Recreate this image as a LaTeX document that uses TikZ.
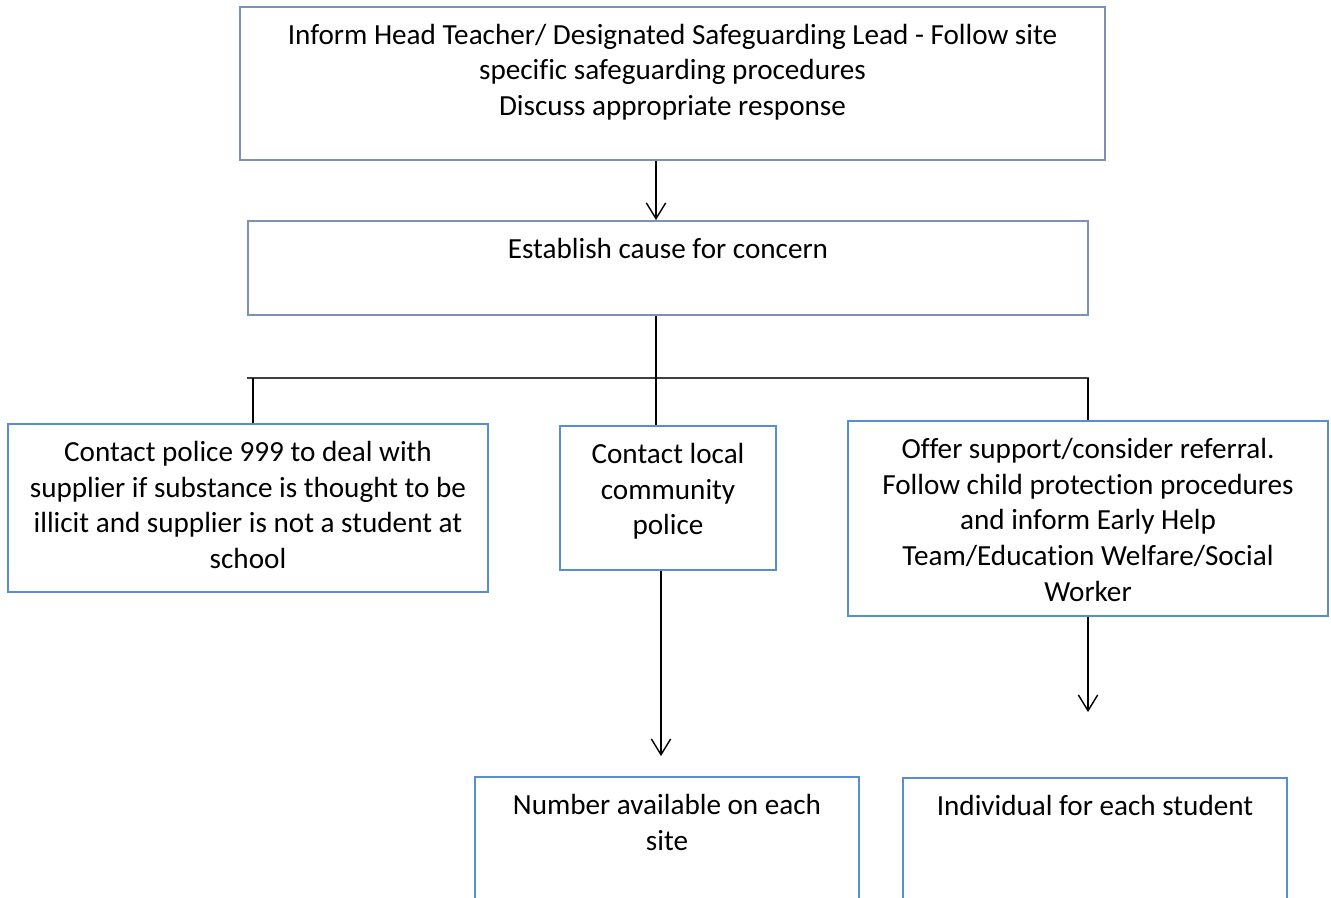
\documentclass[tikz,border=0pt]{standalone}
\usepackage{fontspec}
\setmainfont{Carlito}[Ligatures=NoCommon]
\usepackage{xcolor}
\usetikzlibrary{arrows.meta, positioning}

\definecolor{greyblue}{RGB}{125,146,178}
\definecolor{boxblue}{RGB}{86,142,212}

\begin{document}
\begin{tikzpicture}[x=0.02cm, y=-0.02cm,
		box/.style = {draw=boxblue, line width=1.1pt, inner sep=0pt},
		txt/.style = {inner sep=0pt, align=center, font=\fontsize{16.6}{20.4}\selectfont},
		bus/.style = {draw=black!75, line width=1.1pt}]
		\useasboundingbox (0,0) rectangle (1331,897);
		\clip (0,0) rectangle (1331,897);
		
		% boxes
		\node[box, draw=greyblue, minimum width=17.3cm, minimum height=3.06cm] (inform) at (672.5,83.5) {};
		\node[box, draw=greyblue, minimum width=16.8cm, minimum height=1.88cm] (cause) at (668,268) {};
		\node[box, minimum width=9.6cm, minimum height=3.36cm] (police) at (248,508) {};
		\node[box, minimum width=4.32cm, minimum height=2.88cm] (local) at (668,498) {};
		\node[box, minimum width=9.6cm, minimum height=3.9cm] (support) at (1088,518.5) {};
		\node[box, minimum width=7.68cm, minimum height=3.2cm] (number) at (667,857) {};
		\node[box, minimum width=7.68cm, minimum height=3.2cm] (individual) at (1095,858) {};
		
		% texts
		\node[txt, below=0.35cm of inform.north] (informtext) {Inform Head Teacher/ Designated Safeguarding Lead - Follow site\\ specific safeguarding procedures\\ Discuss appropriate response};
		\node[txt, below=0.35cm of cause.north] (causetext) {Establish cause for concern};
		\node[txt, below=0.35cm of police.north] (policetext) {Contact police 999 to deal with\\ supplier if substance is thought to be\\ illicit and supplier is not a student at\\ school};
		\node[txt, below=0.35cm of local.north] (localtext) {Contact local\\ community\\ police};
		\node[txt, below=0.35cm of support.north] (supporttext) {Offer support/consider referral.\\ Follow child protection procedures\\ and inform Early Help\\ Team/Education Welfare/Social\\ Worker};
		\node[txt, below=0.35cm of number.north] (numbertext) {Number available on each\\ site};
		\node[txt, below=0.35cm of individual.north] (individualtext) {Individual for each student};
		
		% connectors
		\coordinate (split) at (656,378);
		\draw[bus] (cause.west |- split) -- (cause.east |- split);
		\draw[line width=0.8pt] (cause.south -| split) -- (local.north -| split);
		\draw[line width=0.8pt] ([xshift=0.1cm]police.north) -- ([xshift=0.1cm]police.north |- split);
		\draw[line width=0.8pt] (support.north) -- (support.north |- split);
		
		\begin{scope}[line width=0.8pt, -{Straight Barb[length=9pt, width=11pt]}]
			\draw (inform.south -| split) -- (cause.north -| split);
			\draw ([xshift=-0.14cm]local.south) -- ([xshift=-0.14cm, yshift=0.4cm]local.south |- number.north);
			\draw (support.south) -- ([yshift=1.3cm]support.south |- individual.north);
		\end{scope}
	\end{tikzpicture}
\end{document}
